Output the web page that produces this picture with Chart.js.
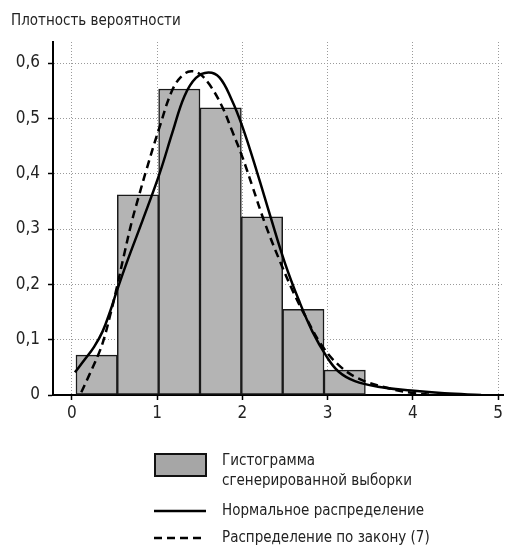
<!DOCTYPE html>
<html>
<head>
<meta charset="utf-8">
<script src="https://cdn.jsdelivr.net/npm/chart.js@4"></script>
<style>
  html, body { margin: 0; padding: 0; background: #fff; }
  #wrap { width: 506px; height: 549px; }
</style>
</head>
<body>
<div id="wrap"><canvas id="chart"></canvas></div>
<script>
// histogram: bin centres and heights
const binCenters = [0.29, 0.775, 1.26, 1.745, 2.23, 2.715, 3.2];
const binHeights = [0.072, 0.362, 0.553, 0.519, 0.322, 0.155, 0.045];

// normal distribution curve (solid)
const normalX = [0.035, 0.15, 0.26, 0.36, 0.45, 0.52, 0.64, 0.83, 1.03, 1.18, 1.32, 1.455, 1.6, 1.73, 1.87, 2.0, 2.175, 2.33, 2.5, 2.66, 2.82, 2.99, 3.13, 3.32, 3.59, 3.98, 4.37, 4.8];
const normalY = [0.041, 0.064, 0.087, 0.115, 0.152, 0.185, 0.238, 0.316, 0.401, 0.475, 0.54, 0.573, 0.583, 0.574, 0.535, 0.485, 0.401, 0.322, 0.238, 0.172, 0.115, 0.069, 0.042, 0.025, 0.015, 0.008, 0.003, 0.0];

// distribution by law (7) (dashed)
const lawX = [0.11, 0.2, 0.307, 0.373, 0.45, 0.52, 0.61, 0.7, 0.786, 0.87, 1.03, 1.18, 1.3, 1.4, 1.5, 1.61, 1.76, 1.88, 2.0, 2.115, 2.27, 2.45, 2.6, 2.74, 2.93, 3.13, 3.36, 3.67, 3.98, 4.25];
const lawY = [0.005, 0.035, 0.072, 0.1, 0.145, 0.19, 0.252, 0.312, 0.36, 0.405, 0.485, 0.552, 0.578, 0.585, 0.58, 0.562, 0.522, 0.477, 0.43, 0.378, 0.308, 0.238, 0.185, 0.142, 0.09, 0.054, 0.03, 0.014, 0.004, 0.0];

const xTicks = [0, 1, 2, 3, 4, 5];
const yTicks = [0, 0.1, 0.2, 0.3, 0.4, 0.5, 0.6];

const legendLabels = [
  ["Гистограмма", "сгенерированной выборки"],
  ["Нормальное распределение"],
  ["Распределение по закону (7)"]
];

const FONT = "'Liberation Sans Narrow', 'DejaVu Sans Condensed', 'Liberation Sans', sans-serif";
Chart.defaults.font.family = FONT;
Chart.defaults.color = "#222";

const toPoints = (xs, ys) => xs.map((x, i) => ({ x: x, y: ys[i] }));

// legend drawn under the plot
const bottomLegend = {
  id: "bottomLegend",
  afterDraw(chart) {
    const ctx = chart.ctx;
    ctx.save();
    ctx.font = "15px " + FONT;
    ctx.textBaseline = "middle";
    const textX = 222;

    // histogram box
    ctx.fillStyle = "#a6a6a6";
    ctx.fillRect(155, 454, 51, 22);
    ctx.strokeStyle = "#111";
    ctx.lineWidth = 2;
    ctx.strokeRect(155, 454, 51, 22);
    ctx.fillStyle = "#222";
    ctx.fillText(legendLabels[0][0], textX, 461);
    ctx.fillText(legendLabels[0][1], textX, 481);

    // solid line
    ctx.strokeStyle = "#000";
    ctx.lineWidth = 2.5;
    ctx.beginPath();
    ctx.moveTo(154, 511);
    ctx.lineTo(206, 511);
    ctx.stroke();
    ctx.fillText(legendLabels[1][0], textX, 511);

    // dashed line
    ctx.setLineDash([8, 5]);
    ctx.beginPath();
    ctx.moveTo(154, 538);
    ctx.lineTo(206, 538);
    ctx.stroke();
    ctx.setLineDash([]);
    ctx.fillText(legendLabels[2][0], textX, 538);
    ctx.restore();
  }
};

const axisGrid = {
  offset: false,
  color: "#9a9a9a",
  lineWidth: 1,
  tickColor: "#000",
  tickWidth: 1.5,
  tickLength: 5,
  tickBorderDash: []
};

new Chart(document.getElementById("chart"), {
  type: "bar",
  data: {
    datasets: [
      {
        type: "line",
        label: "Нормальное распределение",
        data: toPoints(normalX, normalY),
        borderColor: "#000",
        borderWidth: 2.5,
        pointRadius: 0,
        tension: 0.4,
        fill: false,
        order: 1
      },
      {
        type: "line",
        label: "Распределение по закону (7)",
        data: toPoints(lawX, lawY),
        borderColor: "#000",
        borderWidth: 2.5,
        borderDash: [8, 5],
        pointRadius: 0,
        tension: 0.4,
        fill: false,
        order: 0
      },
      {
        label: "Гистограмма сгенерированной выборки",
        data: toPoints(binCenters, binHeights),
        backgroundColor: "#b4b4b4",
        borderColor: "#1a1a1a",
        borderWidth: 1.5,
        borderSkipped: false,
        barPercentage: 1,
        categoryPercentage: 1,
        order: 2
      }
    ]
  },
  options: {
    responsive: true,
    maintainAspectRatio: false,
    animation: false,
    layout: { padding: { left: 11, right: 0, top: 0, bottom: 124 } },
    scales: {
      x: {
        type: "linear",
        offset: false,
        min: -0.222,
        max: 5.064,
        afterBuildTicks: (scale) => { scale.ticks = xTicks.map(v => ({ value: v })); },
        afterFit: (scale) => { scale.height = 30; },
        grid: axisGrid,
        border: { color: "#000", width: 2, dash: [1, 2] },
        ticks: {
          padding: 3,
          font: { size: 17 },
          color: "#222",
          callback: (v) => String(v)
        }
      },
      y: {
        min: 0,
        max: 0.638,
        afterBuildTicks: (scale) => { scale.ticks = yTicks.map(v => ({ value: v })); },
        afterFit: (scale) => { scale.width = 42; },
        grid: axisGrid,
        border: { color: "#000", width: 2, dash: [1, 2] },
        ticks: {
          padding: 8,
          font: { size: 17 },
          color: "#222",
          callback: (v) => v === 0 ? "0" : v.toFixed(1).replace(".", ",")
        }
      }
    },
    plugins: {
      legend: { display: false },
      tooltip: { enabled: false },
      title: {
        display: true,
        text: "Плотность вероятности",
        align: "start",
        color: "#222",
        font: { size: 15, weight: "normal" },
        padding: { top: 12, bottom: 12 }
      }
    }
  },
  plugins: [bottomLegend]
});
</script>
</body>
</html>
